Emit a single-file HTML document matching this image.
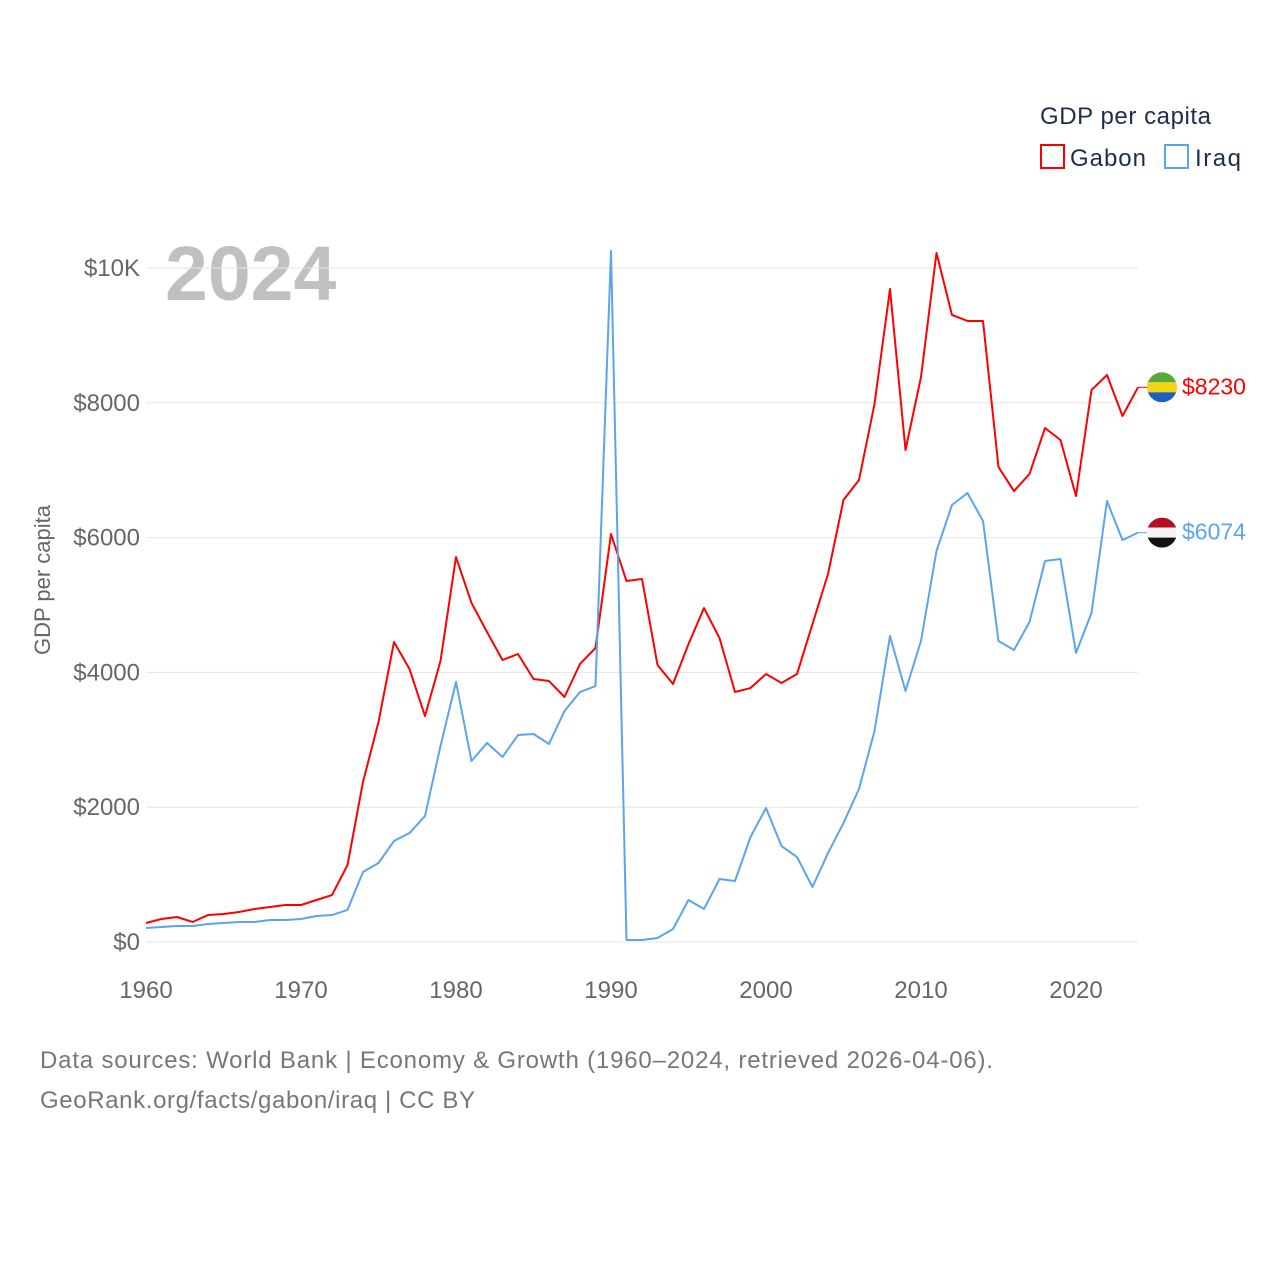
<!DOCTYPE html>
<html><head><meta charset="utf-8"><style>
body{margin:0;background:#fff;font-family:"Liberation Sans",sans-serif}
svg{display:block}
</style></head><body>
<svg id="chart" width="1280" height="1280">
<text x="1040" y="124" font-size="24" fill="#1f2d4d" textLength="171">GDP per capita</text>
<g><rect x="1041" y="145" width="23" height="23" fill="none" stroke="#f00" stroke-width="2"/><text x="1070" y="166" font-size="24" fill="#1f2d4d" textLength="76">Gabon</text></g>
<g><rect x="1165" y="145" width="23" height="23" fill="none" stroke="#5ba4ee" stroke-width="2"/><text x="1195" y="166" font-size="24" fill="#1f2d4d" textLength="46">Iraq</text></g>
<text x="165" y="300" font-size="77" font-weight="bold" fill="#c0c0c0">2024</text>
<text transform="translate(50,580) rotate(-90)" text-anchor="middle" font-size="22" fill="#666">GDP per capita</text>
<g id="grid"></g><g id="series"></g>
<text x="40" y="1068" font-size="24" fill="#777" textLength="953">Data sources: World Bank | Economy &amp; Growth (1960–2024, retrieved 2026-04-06).</text>
<text x="40" y="1108" font-size="24" fill="#777" textLength="435">GeoRank.org/facts/gabon/iraq | CC BY</text>
</svg>
<script>
const years=[];for(let y=1960;y<=2024;y++)years.push(y);
const gabon=[282,341,371,297,400,415,445,490,519,549,549,623,697,1142,2374,3264,4451,4050,3353,4169,5712,5030,4599,4184,4273,3902,3872,3635,4125,4362,6053,5356,5386,4110,3828,4421,4955,4510,3709,3768,3976,3843,3976,4718,5460,6558,6855,7982,9688,7300,8383,10223,9303,9214,9214,7047,6691,6944,7626,7448,6617,8190,8412,7804,8230];
const iraq=[208,223,237,237,267,282,297,297,326,326,341,386,400,475,1039,1172,1499,1617,1869,2908,3858,2685,2953,2745,3071,3086,2938,3427,3709,3798,10252,30,30,60,193,623,490,935,905,1558,1988,1424,1261,816,1320,1766,2270,3131,4540,3724,4466,5801,6484,6662,6246,4466,4332,4748,5653,5682,4288,4881,6543,5964,6074];
const yTicks=[0,2000,4000,6000,8000,10000];
const yTickLabels=["$0","$2000","$4000","$6000","$8000","$10K"];
const xTicks=[1960,1970,1980,1990,2000,2010,2020];
const NS="http://www.w3.org/2000/svg";
const X=y=>146+(y-1960)*15.5, Y=v=>942-v*0.0674;
const grid=document.getElementById('grid'), ser=document.getElementById('series');
function el(t,a,p){const e=document.createElementNS(NS,t);for(const k in a)e.setAttribute(k,a[k]);p.appendChild(e);return e;}
yTicks.forEach((v,i)=>{
 const l=el('line',{x1:146,x2:1138,y1:Y(v),y2:Y(v),stroke:'#e6e6e6','stroke-width':1},grid);
 
 
 const t=el('text',{x:140,y:Y(v)+8,'text-anchor':'end','font-size':24,fill:'#666'},grid);t.textContent=yTickLabels[i];
 
 
});
xTicks.forEach(yr=>{
 const t=el('text',{x:X(yr),y:998,'text-anchor':'middle','font-size':24,fill:'#666'},grid);t.textContent=yr;
 
 
});
function line(data,color,name){
 const p=el('polyline',{points:data.map((v,i)=>X(years[i])+','+Y(v)).join(' '),fill:'none',stroke:color,'stroke-width':2,'stroke-linejoin':'round'},ser);
 
 
}
line(gabon,'#f00','gabon-line');line(iraq,'#5ba4ee','iraq-line');
function endLabel(v,color,name,top,mid,bot){
 const y=Y(v);
 el('line',{x1:1138,x2:1148,y1:y,y2:y,stroke:color,'stroke-width':1},ser);
 const g=el('g',{},ser);
 
 
 const cid='c'+name;const d=el('clipPath',{id:cid},g);el('circle',{cx:1162,cy:y,r:15},d);
 el('rect',{x:1147,y:y-15,width:30,height:10,fill:top,'clip-path':'url(#'+cid+')'},g);
 el('rect',{x:1147,y:y-5,width:30,height:10,fill:mid,'clip-path':'url(#'+cid+')'},g);
 el('rect',{x:1147,y:y+5,width:30,height:10,fill:bot,'clip-path':'url(#'+cid+')'},g);
 const t=el('text',{x:1182,y:y+7,'font-size':23,fill:color},ser);t.textContent='$'+v;
 
 
}
endLabel(gabon[gabon.length-1],'#f00','gabon','#5aa83a','#f5d316','#1c5fbf');
endLabel(iraq[iraq.length-1],'#5ba4ee','iraq','#b2101f','#f4f4f4','#111');
</script>
</body></html>
